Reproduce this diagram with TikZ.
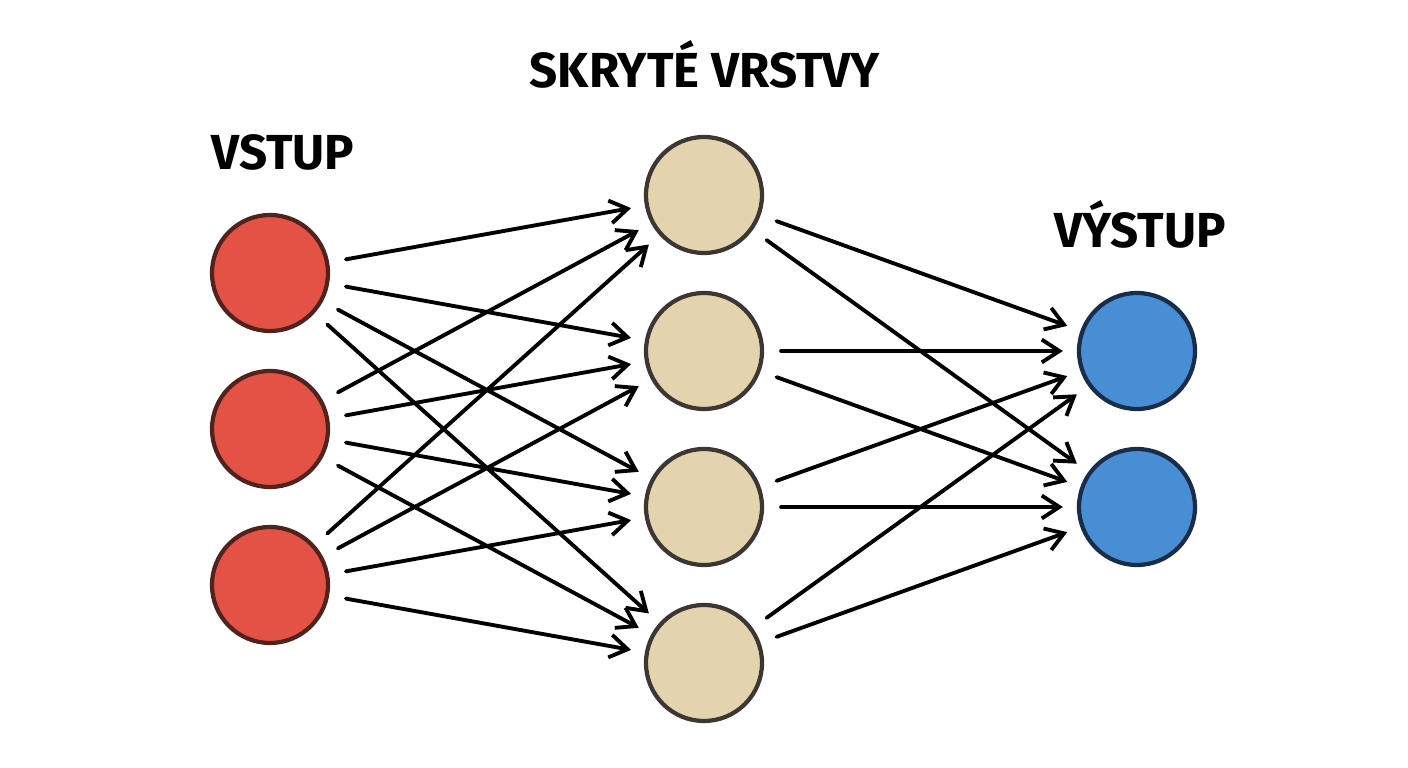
\documentclass[tikz,border=0pt]{standalone}
\usepackage{fontspec}
\setmainfont{Fira Sans}
\usepackage{tikz}
\usetikzlibrary{arrows.meta}
\definecolor{inpfill}{RGB}{228, 82, 70}
\definecolor{inpdark}{RGB}{80, 35, 30}
\definecolor{hidfill}{RGB}{227, 212, 175}
\definecolor{hiddark}{RGB}{60, 55, 50}
\definecolor{outfill}{RGB}{72, 142, 212}
\definecolor{outdark}{RGB}{25, 45, 75}
\newcommand*{\h}{1.16cm}

\begin{document}
\begin{tikzpicture}[
   inpcirc/.style={circle, draw=inpdark, fill=inpfill, line width=1.2,
                   inner sep=0, minimum size=\h},
   hidcirc/.style={circle, draw=hiddark, fill=hidfill, line width=1.2,
                   inner sep=0, minimum size=\h},
   outcirc/.style={circle, draw=outdark, fill=outfill, line width=1.2,
                   inner sep=0, minimum size=\h},
   lbl/.style={font=\bfseries\fontsize{14}{16}\selectfont, anchor=base,
               inner sep=0},
   conn/.style={-{Straight Barb[length=5pt, width=6.5pt]},
                line width=1.1pt, line cap=round,
                shorten <=0.17cm, shorten >=0.14cm}
  ]

  % Node Spacing
  \pgfmathsetmacro{\d}{1.56}

  \fill[white] (0, 0) rectangle (14.08, 7.68);

  % input layer
  \node (I1) at (2.70, 1.05 + 2.5 * \d) [inpcirc] {};
  \node (I2) at (2.70, 1.05 + 1.5 * \d) [inpcirc] {};
  \node (I3) at (2.70, 1.05 + 0.5 * \d) [inpcirc] {};

  % hidden layer
  \node (H1) at (7.04, 1.05 + 3 * \d) [hidcirc] {};
  \node (H2) at (7.04, 1.05 + 2 * \d) [hidcirc] {};
  \node (H3) at (7.04, 1.05 + 1 * \d) [hidcirc] {};
  \node (H4) at (7.04, 1.05 + 0 * \d) [hidcirc] {};

  % output layer
  \node (O1) at (11.37, 1.05 + 2 * \d) [outcirc] {};
  \node (O2) at (11.37, 1.05 + 1 * \d) [outcirc] {};

  % labels
  \node (vstup) at (2.83, 5.98) [lbl] {VSTUP};
  \node (skryte) at (7.05, 6.80) [lbl] {SKRYTÉ VRSTVY};
  \node (vystup) at (11.40, 5.20) [lbl] {VÝSTUP};

  \foreach \B in {1, 2, 3} {
    \foreach \E in {1, 2, 3, 4} {
      \draw[conn] (I\B) -- (H\E);
    }
  }
  \foreach \B in {1, 2, 3, 4} {
    \foreach \E in {1, 2} {
      \draw[conn] (H\B) -- (O\E);
    }
  }

\end{tikzpicture}
\end{document}
